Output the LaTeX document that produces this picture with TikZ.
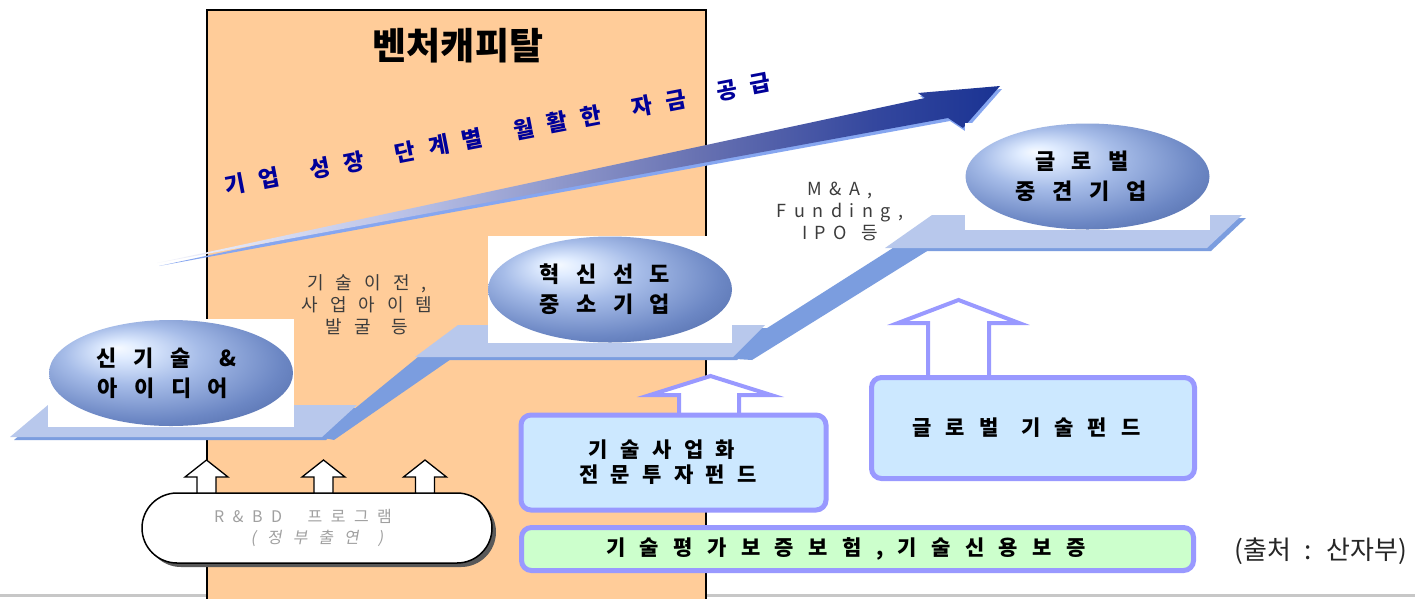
\documentclass[tikz,border=0pt]{standalone}
\usepackage{fontspec}
\newfontfamily\kr{Noto Sans CJK KR}
\newfontfamily\kri[FakeSlant=0.18]{Noto Sans CJK KR}
\usetikzlibrary{shapes.geometric,shapes.misc,shadows}
\definecolor{vcorange}{HTML}{FFCC99}
\definecolor{platL}{HTML}{B8C8EC}
\definecolor{platD}{HTML}{7B9DDF}
\definecolor{boxblue}{HTML}{CCE8FF}
\definecolor{boxgreen}{HTML}{CCFFCC}
\definecolor{boxline}{HTML}{9999FF}
\definecolor{txtblue}{HTML}{000099}
\definecolor{txtgray}{HTML}{3C3C3C}
\definecolor{rdgray}{HTML}{A0A0A0}
\definecolor{eggA}{HTML}{F6FAFF}
\definecolor{eggA2}{HTML}{E0ECFF}
\definecolor{eggB}{HTML}{A6BCE8}
\definecolor{eggC}{HTML}{6C87C4}
\definecolor{eggD}{HTML}{46609E}
\definecolor{arrA}{HTML}{F4F5FC}
\definecolor{arrB}{HTML}{B8C0E6}
\definecolor{arrC}{HTML}{6872B2}
\definecolor{arrC2}{HTML}{34479E}
\definecolor{arrD}{HTML}{1A3393}
\definecolor{arrS}{HTML}{86A6F0}
% TikZ maps the central 50bp square of a shading onto the path's bounding box
\pgfdeclareradialshading{eggshade}{\pgfpoint{-11bp}{12bp}}{color(0bp)=(eggA); color(4bp)=(eggA2); color(14bp)=(eggB); color(27.5bp)=(eggC); color(40bp)=(eggD); color(50bp)=(eggD)}
\pgfdeclarehorizontalshading{arrshade}{100bp}{color(0bp)=(arrA); color(25bp)=(arrA); color(40bp)=(arrB); color(57bp)=(arrC); color(67.5bp)=(arrC2); color(75bp)=(arrD); color(100bp)=(arrD)}
\newcommand\wsp[1]{\spaceskip #1\relax}
\newcommand\fsz[2]{\fontsize{#1}{#2}\selectfont}
\tikzset{
  every node/.style={inner sep=0pt, outer sep=0pt},
  platdark/.style={fill=platD},
  platlight/.style={fill=platL},
  wback/.style={fill=white},
  egg/.style={ellipse, shade, shading=eggshade, minimum width=244pt, minimum height=106pt, align=center,
    font={\kr\bfseries\fsz{22}{30}\wsp{16.5pt}}},
  fundbox/.style={draw=boxline, line width=5pt, rounded corners=10pt, fill=boxblue, align=center,
    font={\kr\bfseries\fsz{21}{25}\wsp{12.4pt}}},
  uparr/.style={draw=boxline, line width=4pt, fill=white, line join=miter},
  smallarr/.style={draw=black, line width=1.3pt, fill=white},
  graytxt/.style={text=txtgray, align=center, font={\kr\fsz{18}{22}\wsp{12pt}}},
}
\newcommand\smallup[1]{\draw[smallarr] ([xshift=#1-9.5pt]rd.north) -- ++(0,-16) -- ++(-12,0) -- ++(21.5,-17) -- ++(21.5,17) -- ++(-12,0) -- ++(0,16) -- cycle;}
\begin{document}
\begin{tikzpicture}[x=1pt,y=-1pt]
\useasboundingbox (0,0) rectangle (1415,598);
\fill[white] (0,0) rectangle (1415,598);
\draw[line width=3pt, black!22] (0,595) -- (1415,595);
% venture capital column
\filldraw[fill=vcorange, draw=black, line width=2pt] (207,10) rectangle (706,612);
\node[font={\kr\bfseries\fsz{37}{40}}] (title) at (458,46) {벤처캐피탈};
% big growth arrow
\fill[arrS, shift={(2,3)}] (157,263) -- (925,98) -- (918,93) -- (1000,86) -- (963,128) -- (948,118) -- cycle;
\shade[shading=arrshade] (157,263) -- (925,98) -- (918,93) -- (1000,86) -- (963,128) -- (948,118) -- cycle;
\node[rotate=10.9, text=txtblue, font={\kr\bfseries\fsz{22.5}{26}\wsp{13.5pt}}] (slogan) at (498,134)
  {기 업 \hspace{18pt}성 장 \hspace{18pt}단 계 별 \hspace{18pt}월 활 한 \hspace{18pt}자 금 \hspace{18pt}공 급};
% ramps
\fill[platdark] (320,437) -- (418,357) -- (454,357) -- (334,440) -- cycle;
\fill[platdark] (720,358) -- (893,248) -- (932,248) -- (752,360) -- cycle;
% platforms
\fill[platdark, shift={(4,3)}] (48,405) -- (357,405) -- (322,437) -- (10,437) -- cycle;
\fill[platlight] (48,405) -- (357,405) -- (322,437) -- (10,437) -- cycle;
\fill[platdark, shift={(4,3)}] (458,325) -- (765,325) -- (733,357) -- (415,357) -- cycle;
\fill[platlight] (458,325) -- (765,325) -- (733,357) -- (415,357) -- cycle;
\fill[platdark, shift={(4,3)}] (932,215) -- (1242,215) -- (1207,248) -- (885,248) -- cycle;
\fill[platlight] (932,215) -- (1242,215) -- (1207,248) -- (885,248) -- cycle;
% stage ellipses
\node[wback, minimum width=246pt, minimum height=108pt] (w1) at (171,373) {};
\node[egg] (e1) at (171,373) {신 기 술\hspace{12pt} \&\kern9pt\\아 이 디 어\kern16pt};
\node[wback, minimum width=244pt, minimum height=107pt] (w2) at (610,289.5) {};
\node[egg] (e2) at (610,289.5) {혁 신 선 도\kern10pt\\중 소 기 업\kern10pt};
\node[wback, minimum width=245pt, minimum height=107pt] (w3) at (1087.5,176.5) {};
\node[egg] (e3) at (1087.5,176.5) {글 로 벌\kern11pt\\중 견 기 업\kern13pt};
% transition labels
\node[graytxt] (t1) at (367,305) {기 술 이 전 ,\\사 업 아 이 템\\발 굴 \hspace{9pt}등};
\node[graytxt, font={\kr\fsz{18}{22}\wsp{7.5pt}}] (t2) at (840,211) {M \& A ,\\F u n d i n g ,\\I P O\hspace{14pt}등};
% funds
\draw[uparr] (679,415) -- ++(0,-20) -- ++(-29,0) -- ++(60.5,-19) -- ++(60.5,19) -- ++(-32,0) -- ++(0,20) -- cycle;
\draw[uparr] (928,377.5) -- ++(0,-54.5) -- ++(-30,0) -- ++(60.5,-23) -- ++(60.5,23) -- ++(-30,0) -- ++(0,54.5) -- cycle;
\node[fundbox, minimum width=305pt, minimum height=95pt] (b1) at (673.5,462.5) {기 술 사 업 화\kern23pt\\전 문 투 자 펀 드\kern11pt};
\node[fundbox, minimum width=323pt, minimum height=101pt, font={\kr\bfseries\fsz{21}{25}\wsp{14pt}}] (b2) at (1033,428) {글 로 벌 \hspace{9pt}기 술 펀 드\kern13pt};
\node[fundbox, fill=boxgreen, minimum width=672pt, minimum height=43pt, font={\kr\bfseries\fsz{21}{25}\wsp{14.4pt}}] (g1) at (857.5,549) {기 술 평 가 보 증 보 험 , 기 술 신 용 보 증\kern23pt};
% R&BD program
\node[draw=black, rounded rectangle, fill=white, line width=1.5pt, minimum width=350pt, minimum height=70pt,
  drop shadow={shadow xshift=4pt, shadow yshift=-4pt, fill=black!65, opacity=1},
  align=center, text=rdgray, font={\kr\fsz{16}{21}\wsp{8.5pt}}] (rd) at (317,528)
  {R \& B D \hspace{17pt}프 로 그 램\kern28pt\\\kri\wsp{11pt}( 정 부 출 연 \hspace{8pt})};
\smallup{-110.5pt}
\smallup{6.5pt}
\smallup{108pt}
% source
\node[text=black!85, font={\kr\fsz{26}{28}\wsp{13pt}}] (src) at (1321,551) {(출처 : 산자부)};
\end{tikzpicture}
\end{document}
